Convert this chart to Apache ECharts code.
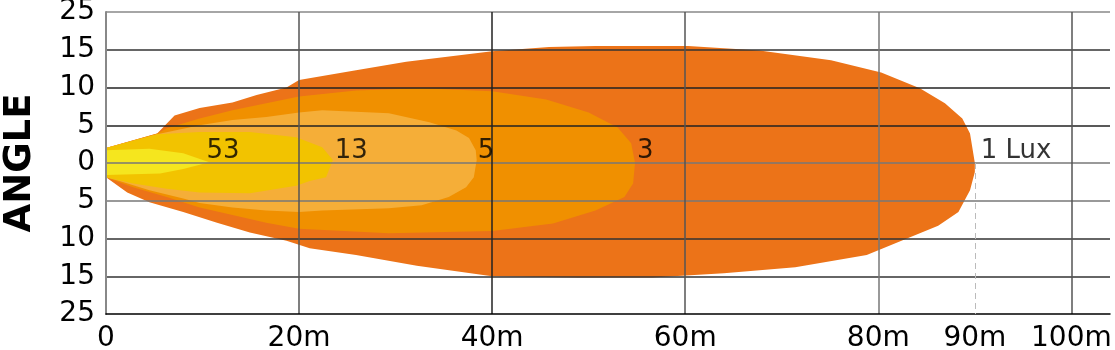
<!DOCTYPE html>
<html><head><meta charset="utf-8">
<script src="https://cdn.jsdelivr.net/npm/echarts@6/dist/echarts.min.js"></script>
<style>html,body{margin:0;padding:0;background:#fff}#c{width:1115px;height:350px}</style>
</head><body><div id="c"></div>
<script>
// ---- data (distance in m, angle in degrees; negative = below axis) ----
const contourNames = ['1 Lux', '3', '5', '13', '53'];
const contour1Lux = [[0,2.0],[5.3,3.9],[7.1,6.3],[9.7,7.3],[13.1,8.0],[15.6,9.0],[18.7,10.0],[20.0,11.0],[25.9,12.3],[31.1,13.4],[40.0,14.8],[45.9,15.7],[50.7,16.0],[60.3,16.0],[67.7,14.9],[75.1,13.6],[80.3,12.0],[84.3,9.9],[86.9,7.9],[88.7,5.9],[89.5,3.9],[90.0,0],
  [90.0,-1.2],[89.5,-3.6],[88.3,-6.5],[86.2,-8.3],[82.4,-10.3],[78.8,-12.2],[71.4,-13.8],[64.0,-14.6],[56.6,-15.3],[49.0,-15.3],[40.0,-15.0],[32.2,-13.6],[25.9,-12.2],[21.1,-11.3],[18.7,-10.3],[14.9,-9.2],[11.5,-7.9],[8.0,-6.5],[4.5,-5.2],[2.2,-3.9],[0,-1.9]];
const contour3Lux = [[0,2.0],[5.3,3.9],[6.3,4.6],[9.7,5.9],[13.1,7.0],[16.6,7.9],[20.0,8.8],[25.9,9.6],[32.7,9.9],[40.0,9.5],[45.6,8.4],[50.0,6.7],[53.0,4.7],[54.4,2.6],[54.8,0],
  [54.6,-2.7],[53.7,-4.5],[50.7,-6.3],[46.3,-8.0],[40.0,-9.0],[29.3,-9.3],[20.0,-8.7],[16.6,-7.9],[13.1,-6.9],[9.7,-5.9],[6.3,-4.5],[2.8,-3.2],[0,-1.9]];
const contour5Lux = [[0,2.0],[5.3,3.8],[9.7,5.0],[13.1,5.7],[16.6,6.1],[20.0,6.7],[22.4,7.0],[29.3,6.6],[33.5,5.4],[36.3,4.3],[37.6,3.3],[38.3,1.7],[38.4,0.4],
  [38.1,-1.9],[37.3,-3.2],[35.5,-4.5],[32.7,-5.6],[29.3,-6.0],[22.4,-6.3],[20.0,-6.5],[16.6,-6.3],[13.1,-5.9],[9.7,-5.3],[8.0,-4.7],[4.5,-3.6],[1.4,-2.4],[0,-1.9]];
const contour13Lux = [[0,2.0],[5.3,3.8],[9.7,4.1],[14.9,4.1],[19.7,3.4],[22.4,2.1],[23.5,0.4],
  [22.8,-1.9],[21.1,-2.4],[19.7,-3.0],[14.9,-4.0],[9.7,-3.9],[6.3,-3.4],[2.8,-2.7],[0,-1.9]];
const contour53Lux = [[0,1.7],[4.5,1.9],[8.0,1.3],[10.7,0.1],[8.0,-0.8],[5.6,-1.4],[0,-1.6]];
const labelX = [90.6, 55.0, 38.5, 23.7, 10.4];
const labelDeg = [1.5, 1.5, 1.5, 1.5, 1.5];
const xTickLabels = [0, 20, 40, 60, 80, 90, 100];
const yTickLabels = ['25', '15', '10', '5', '0', '5', '10', '15', '25'];
const rangeLine = 90;

const contours = [contour1Lux, contour3Lux, contour5Lux, contour13Lux, contour53Lux];
const colors = ['#EC7318', '#F09000', '#F5AE38', '#F2C300', '#F5E61E'];

// angle axis is piecewise: 5 deg per row up to 15, then 10 deg per row
function toAxis(deg) {
  const a = Math.abs(deg), s = deg < 0 ? -1 : 1;
  return s * (a <= 15 ? a / 5 : 3 + (a - 15) / 10);
}

const chart = echarts.init(document.getElementById('c'));
const FONT = 'DejaVu Sans';
chart.setOption({
  animation: false,
  grid: { left: 106, right: 5, top: 12, bottom: 36, outerBoundsMode: 'none', containLabel: false },
  xAxis: {
    type: 'value', min: 0, max: 104, interval: 20, z: 3,
    axisLine: { onZero: false, lineStyle: { color: '#000', width: 1.5 } },
    axisTick: { show: false },
    axisLabel: {
      customValues: xTickLabels, margin: 11, fontSize: 28, color: '#000', fontFamily: FONT,
      formatter: v => v === 0 ? '0' : v + 'm'
    },
    splitLine: { show: true, showMinLine: false, showMaxLine: false,
      lineStyle: { color: ['#555','#222','#555','#777','#555'], width: 1.5 } }
  },
  yAxis: {
    type: 'value', min: -4, max: 4, interval: 1, z: 3,
    name: 'ANGLE', nameLocation: 'middle', nameRotate: 90, nameGap: 67,
    nameTextStyle: { fontSize: 37, fontWeight: 'bold', color: '#000', fontFamily: FONT },
    axisLine: { show: true, lineStyle: { color: '#888', width: 2 } },
    axisTick: { show: false },
    axisLabel: { margin: 11, fontSize: 28, color: '#000', fontFamily: FONT,
      formatter: v => yTickLabels[Math.round(v) + 4] },
    splitLine: { show: true, showMinLine: false,
      lineStyle: { color: ['#333','#333','#777','#777','#222','#222','#333','#888'], width: 1.5 } }
  },
  series: [
    {
      type: 'custom', z: 1, silent: true,
      data: contours.map((c, i) => [i]),
      encode: { x: -1, y: -1 },
      renderItem: function (params, api) {
        const pts = contours[params.dataIndex].map(p => api.coord([p[0], toAxis(p[1])]));
        return { type: 'polygon', shape: { points: pts }, style: { fill: colors[params.dataIndex] } };
      }
    },
    {
      type: 'scatter', z: 5, symbolSize: 0, silent: true,
      data: labelX.map((x, i) => ({ value: [x, toAxis(labelDeg[i])], name: contourNames[i] })),
      label: { show: true, position: 'right', distance: 0, formatter: p => p.name,
        fontSize: 26, color: '#000', fontFamily: FONT },
      markLine: {
        silent: true, symbol: 'none', label: { show: false },
        lineStyle: { color: '#bbb', type: [6, 4], width: 1 },
        data: [[{ coord: [rangeLine, 0] }, { coord: [rangeLine, -4] }]]
      }
    }
  ]
});
</script></body></html>
